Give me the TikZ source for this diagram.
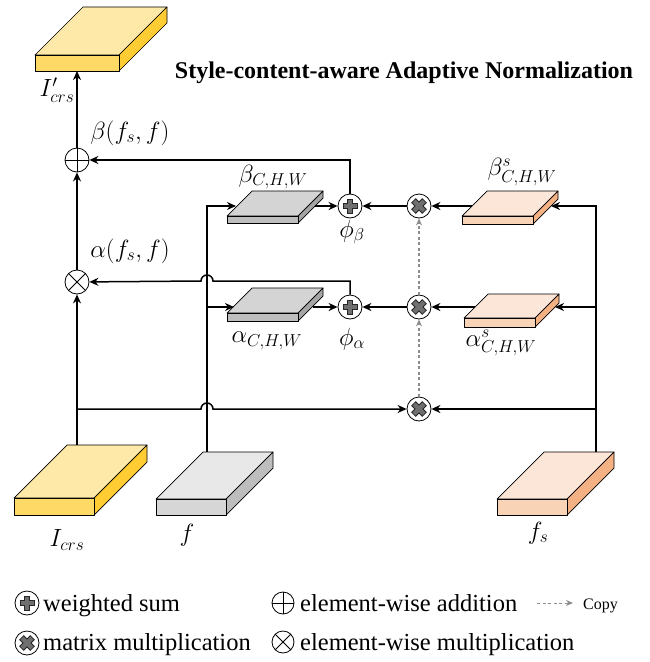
\documentclass[tikz,border=0pt]{standalone}
\usepackage{amsmath,amssymb}
\usepackage{fontspec}
\setmainfont{Liberation Serif}
\usetikzlibrary{arrows.meta,positioning}
\definecolor{yeltop}{HTML}{FFE9A8}
\definecolor{yelfront}{HTML}{FFD966}
\definecolor{yelside}{HTML}{FFCC33}
\definecolor{grytop}{HTML}{E8E8E8}
\definecolor{gryfront}{HTML}{D6D6D6}
\definecolor{gryside}{HTML}{BDBDBD}
\definecolor{dgrtop}{HTML}{D4D4D4}
\definecolor{dgrfront}{HTML}{BEBEBE}
\definecolor{dgrside}{HTML}{A5A5A5}
\definecolor{pchtop}{HTML}{FCE6D8}
\definecolor{pchfront}{HTML}{F9D3B5}
\definecolor{pchside}{HTML}{F4B183}
\definecolor{opgray}{HTML}{6F6F6F}
\definecolor{cpgray}{HTML}{8C8C8C}
% slab: front corner x, y, width, height, depth, colour family
\newcommand{\slab}[6]{%
  \filldraw[fill=#6top,line width=.7pt,line join=round] (#1,#2)--++(#5,-#5)--++(#3,0)--++(-#5,#5)--cycle;
  \filldraw[fill=#6side,line width=.7pt,line join=round] (#1+#3,#2)--++(#5,-#5)--++(0,#4)--++(-#5,#5)--cycle;
  \filldraw[fill=#6front,line width=.7pt,line join=round] (#1,#2) rectangle ++(#3,#4);}

\begin{document}
\begin{tikzpicture}[x=1pt,y=-1pt,>={Stealth[length=9pt,width=8pt]},
  conn/.style={->,line width=1.5pt},
  copyarr/.style={-{Stealth[length=7pt,width=6pt]},cpgray,line width=1.2pt,dash pattern=on 3pt off 2.5pt},
  opnode/.style={circle,draw,line width=.8pt,fill=white,minimum size=24pt,inner sep=0pt},
  eadd/.style={opnode,path picture={\draw[line width=.8pt]
    (path picture bounding box.north)--(path picture bounding box.south)
    (path picture bounding box.west)--(path picture bounding box.east);}},
  emul/.style={opnode,path picture={\draw[line width=.8pt]
    (path picture bounding box.north west)--(path picture bounding box.south east)
    (path picture bounding box.north east)--(path picture bounding box.south west);}},
  wsum/.style={opnode,path picture={
    \draw[line width=6.5pt,black!85]
      ([xshift=-7.5pt]path picture bounding box.center)--([xshift=7.5pt]path picture bounding box.center)
      ([yshift=-7.5pt]path picture bounding box.center)--([yshift=7.5pt]path picture bounding box.center);
    \draw[line width=4.5pt,opgray]
      ([xshift=-6.5pt]path picture bounding box.center)--([xshift=6.5pt]path picture bounding box.center)
      ([yshift=-6.5pt]path picture bounding box.center)--([yshift=6.5pt]path picture bounding box.center);}},
  mmul/.style={opnode,path picture={
    \draw[line width=6.5pt,black!85]
      ([shift={(-5.6pt,-5.6pt)}]path picture bounding box.center)--([shift={(5.6pt,5.6pt)}]path picture bounding box.center)
      ([shift={(-5.6pt,5.6pt)}]path picture bounding box.center)--([shift={(5.6pt,-5.6pt)}]path picture bounding box.center);
    \draw[line width=4.5pt,opgray]
      ([shift={(-4.9pt,-4.9pt)}]path picture bounding box.center)--([shift={(4.9pt,4.9pt)}]path picture bounding box.center)
      ([shift={(-4.9pt,4.9pt)}]path picture bounding box.center)--([shift={(4.9pt,-4.9pt)}]path picture bounding box.center);}},
  lbl/.style={font=\fontsize{24}{28}\selectfont,inner sep=0pt},
  legtxt/.style={font=\fontsize{24.5}{28}\selectfont,anchor=base west,inner sep=0pt}]
\useasboundingbox (0,0) rectangle (649,662);
\node[font=\fontsize{24}{28}\selectfont\bfseries] (title) at (404,73) {Style-content-aware Adaptive Normalization};
% feature slabs
\slab{35}{55}{84}{16}{48}{yel}
\slab{227}{216}{71}{7}{25}{dgr}
\slab{227}{313}{71}{8}{25}{dgr}
\slab{462}{216}{71}{8}{25}{pch}
\slab{464}{318}{71}{9}{24}{pch}
\slab{14}{498}{80}{17}{53}{yel}
\slab{156}{499}{70}{16}{47}{gry}
\slab{497}{499}{70}{16}{47}{pch}
% operators
\node[eadd] (add) at (77,160) {};
\node[emul] (mul) at (77,282) {};
\node[wsum] (phib) at (350,206) {};
\node[wsum] (phia) at (350,307) {};
\node[mmul] (mmb) at (419,206) {};
\node[mmul] (mma) at (419,307) {};
\node[mmul] (mmc) at (419,409) {};
% attach points
\coordinate (outin) at (77,71);
\coordinate (icrsout) at (77,445);
\coordinate (fout) at (207,452);
\coordinate (fsout) at (596,452);
\coordinate (bbin) at (236,206);
\coordinate (bbout) at (315,206);
\coordinate (bain) at (234,307);
\coordinate (baout) at (313,307);
\coordinate (bbsin) at (551,206);
\coordinate (bbsout) at (472,206);
\coordinate (basin) at (555,307);
\coordinate (basout) at (475,307);
\coordinate (fjoin) at (207,307);
\coordinate (fsjm) at (596,307);
\coordinate (fsjc) at (596,409);
\coordinate (cjoin) at (77,409);
\coordinate (hopa) at (207,281);
\coordinate (hopc) at (207,409);
% connectors
\draw[conn] (icrsout)--(mul);
\draw[conn] (mul)--(add);
\draw[conn] (add)--(outin);
\draw[conn] (phib) |- (add);
\draw[conn] (phia) |- ([xshift=6pt]hopa) arc[start angle=0,end angle=-180,radius=6]--(mul);
\draw[conn] (cjoin)--([xshift=-6pt]hopc) arc[start angle=180,end angle=360,radius=6]--(mmc);
\draw[conn] (fout) |- (bbin);
\draw[conn] (fjoin)--(bain);
\draw[conn] (bbout)--(phib);
\draw[conn] (baout)--(phia);
\draw[conn] (fsout) |- (bbsin);
\draw[conn] (fsjm)--(basin);
\draw[conn] (fsjc)--(mmc);
\draw[conn] (bbsout)--(mmb);
\draw[conn] (basout)--(mma);
\draw[conn] (mmb)--(phib);
\draw[conn] (mma)--(phia);
\draw[copyarr] (mmc)--(mma);
\draw[copyarr] (mma)--(mmb);
% labels
\node[lbl] (loutl) at (57,90) {$I'_{crs}$};
\node[lbl,font=\fontsize{27}{30}\selectfont] (lbeta) at (130,133) {$\beta(f_s,f)$};
\node[lbl,font=\fontsize{27}{30}\selectfont] (lalpha) at (130,251) {$\alpha(f_s,f)$};
\node[lbl] (lbb) at (273,177) {$\beta_{C,H,W}$};
\node[lbl] (lba) at (267,341) {$\alpha_{C,H,W}$};
\node[lbl] (lphib) at (352,232) {$\phi_\beta$};
\node[lbl] (lphia) at (352,339) {$\phi_\alpha$};
\node[lbl] (lbbs) at (522,172) {$\beta^s_{C,H,W}$};
\node[lbl] (lbas) at (501,343) {$\alpha^s_{C,H,W}$};
\node[lbl] (licrs) at (67,540) {$I_{crs}$};
\node[lbl] (lf) at (187,535) {$f$};
\node[lbl] (lfs) at (538,533) {$f_s$};
% legend
\node[wsum] (leg1) at (27,603) {};
\node[legtxt] (legt1) at (43,611) {weighted sum};
\node[eadd,minimum size=22pt] (leg2) at (283,603) {};
\node[legtxt] (legt2) at (300,611) {element-wise addition};
\coordinate (cpa) at (537,603);
\coordinate (cpb) at (573,603);
\draw[copyarr,line width=1pt] (cpa)--(cpb);
\node[font=\fontsize{16}{18}\selectfont,anchor=base west,inner sep=0pt] (legt5) at (583,609) {Copy};
\node[mmul] (leg3) at (27,643) {};
\node[legtxt] (legt3) at (43,650) {matrix multiplication};
\node[emul,minimum size=22pt] (leg4) at (283,642) {};
\node[legtxt] (legt4) at (300,650) {element-wise multiplication};
\end{tikzpicture}
\end{document}
